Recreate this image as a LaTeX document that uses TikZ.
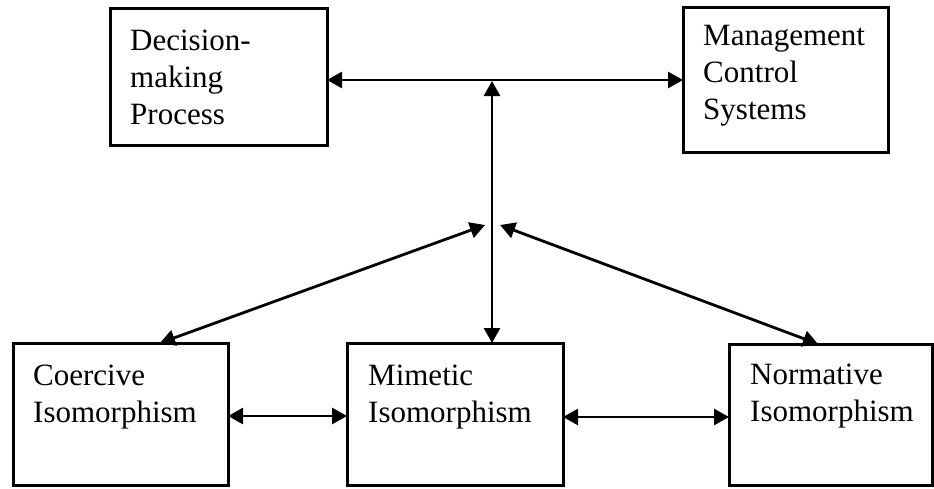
\documentclass[tikz,border=0pt]{standalone}
\usepackage{fontspec}
\setmainfont{Liberation Serif}
\usetikzlibrary{arrows.meta}

\tikzset{
  boxline/.style={line width=3pt},
  boxtext/.style={anchor=north west, inner sep=0pt, align=left,
    font=\fontsize{31}{37}\selectfont},
  link/.style={line width=2.8pt, {Triangle[length=15pt,width=16pt]}-{Triangle[length=15pt,width=16pt]}}
}

\begin{document}
\begin{tikzpicture}[x=1pt,y=-1pt]
  \useasboundingbox (0,0) rectangle (934,488);

  % boxes, given by their corners, with their text set from the top left
  \path (110,8) coordinate (dmp-nw) (327,145) coordinate (dmp-se);
  \draw[boxline] (dmp-nw) rectangle (dmp-se);
  \node[boxtext] (dmp-t) at (130,24) {\strut Decision-\\making\\Process};

  \path (683,7) coordinate (mcs-nw) (888,152) coordinate (mcs-se);
  \draw[boxline] (mcs-nw) rectangle (mcs-se);
  \node[boxtext] (mcs-t) at (703,19) {\strut Management\\Control\\Systems};

  \path (13,343) coordinate (coe-nw) (228,485) coordinate (coe-se);
  \draw[boxline] (coe-nw) rectangle (coe-se);
  \node[boxtext] (coe-t) at (33,359) {\strut Coercive\\Isomorphism};

  \path (347,343) coordinate (mim-nw) (563,485) coordinate (mim-se);
  \draw[boxline] (mim-nw) rectangle (mim-se);
  \node[boxtext] (mim-t) at (368,359) {\strut Mimetic\\Isomorphism};

  \path (729,344) coordinate (nor-nw) (932,485) coordinate (nor-se);
  \draw[boxline] (nor-nw) rectangle (nor-se);
  \node[boxtext] (nor-t) at (750,358) {\strut Normative\\Isomorphism};

  % connection points
  \coordinate (top-l) at (327,80);
  \coordinate (top-r) at (683,80);
  \coordinate (v-top) at (492,81);
  \coordinate (v-bot) at (492,343);
  \coordinate (j-l) at (485,225);
  \coordinate (j-r) at (500,225);
  \coordinate (coe-in) at (160,343);
  \coordinate (nor-in) at (818,344);
  \coordinate (cm-l) at (228,416);
  \coordinate (cm-r) at (347,416);
  \coordinate (mn-l) at (563,417);
  \coordinate (mn-r) at (729,417);

  % connectors
  \draw[link] (top-l) -- (top-r);
  \draw[link] (v-top) -- (v-bot);
  \draw[link] (j-l) -- (coe-in);
  \draw[link] (j-r) -- (nor-in);
  \draw[link] (cm-l) -- (cm-r);
  \draw[link] (mn-l) -- (mn-r);
\end{tikzpicture}
\end{document}
